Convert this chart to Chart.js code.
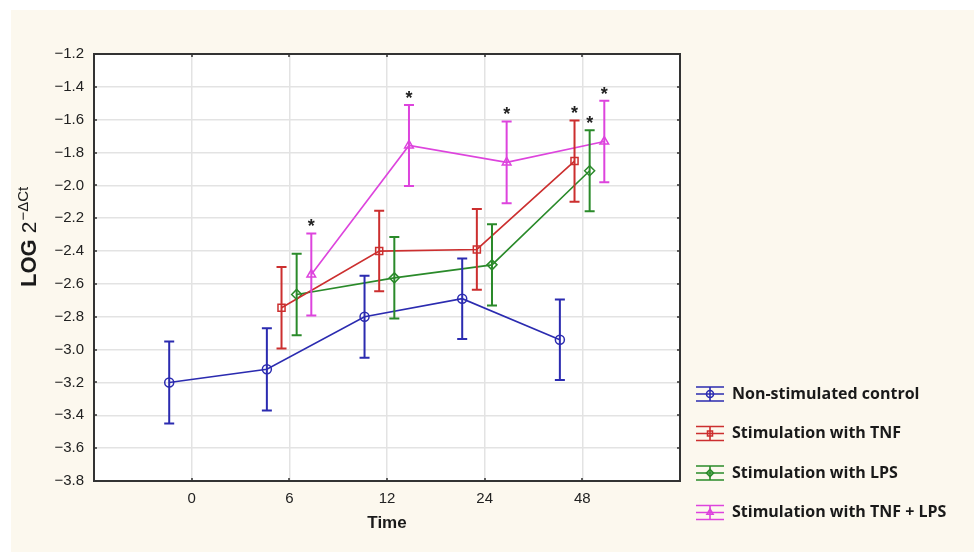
<!DOCTYPE html>
<html>
<head>
<meta charset="utf-8">
<script src="https://cdn.jsdelivr.net/npm/chart.js@4.4.1/dist/chart.umd.min.js"></script>
<style>
  html, body { margin: 0; padding: 0; background: #fff; }
  canvas { display: block; }
</style>
</head>
<body>
<canvas id="grafico" width="974" height="552"></canvas>
<script>
// dados
const tempos = ["0", "6", "12", "24", "48"];
const nomesSeries = ["Non-stimulated control", "Stimulation with TNF", "Stimulation with LPS", "Stimulation with TNF + LPS"];

const controle = [-3.20, -3.12, -2.80, -2.69, -2.94];
const tnf = [null, -2.745, -2.40, -2.39, -1.852];
const lps = [null, -2.664, -2.563, -2.484, -1.911];
const tnfLps = [null, -2.543, -1.757, -1.86, -1.733];

const erroControle = [0.25, 0.25, 0.25, 0.245, 0.245];
const erroTnf = [null, 0.248, 0.245, 0.246, 0.247];
const erroLps = [null, 0.248, 0.248, 0.248, 0.247];
const erroTnfLps = [null, 0.25, 0.247, 0.249, 0.248];

// asteriscos (significância)
const sigControle = [false, false, false, false, false];
const sigTnf = [false, false, false, false, true];
const sigLps = [false, false, false, false, true];
const sigTnfLps = [false, true, true, true, true];

const yTicks = { min: -3.8, max: -1.2, passo: 0.2 };

// estilo
const cores = ["#2b2bb0", "#cc2f2f", "#2a8a2a", "#dd44dd"];
const marcadores = ["circle", "rect", "rectRot", "triangle"];
const deslocamento = [-0.23, -0.08, 0.075, 0.225];
const fonteEixo = "'Liberation Sans', Arial, sans-serif";

const valores = [controle, tnf, lps, tnfLps];
const erros = [erroControle, erroTnf, erroLps, erroTnfLps];
const sigs = [sigControle, sigTnf, sigLps, sigTnfLps];

function menos(v) {
    return v.toFixed(1).replace("-", "\u2212");
}

const datasets = valores.map((serie, s) => {
    const pontos = [];
    serie.forEach((v, i) => {
        if (v !== null) pontos.push({ x: i + deslocamento[s], y: v, erro: erros[s][i], sig: sigs[s][i] });
    });
    return {
        label: nomesSeries[s],
        data: pontos,
        borderColor: cores[s],
        backgroundColor: "rgba(0,0,0,0)",
        borderWidth: 1.6,
        pointStyle: marcadores[s],
        pointRadius: s === 0 ? 4.5 : 5,
        pointBorderWidth: 1.5,
        pointBorderColor: cores[s],
        pointBackgroundColor: "rgba(255,255,255,0)",
        tension: 0
    };
});

// fundo bege e área branca
const fundo = {
    id: "fundo",
    beforeDraw(chart) {
        const c = chart.ctx, a = chart.chartArea;
        c.save();
        c.fillStyle = "#ffffff";
        c.fillRect(0, 0, chart.width, chart.height);
        c.fillStyle = "#fcf8ee";
        c.fillRect(11, 10, chart.width - 11, chart.height - 10);
        c.fillStyle = "#ffffff";
        c.fillRect(a.left, a.top, a.right - a.left, a.bottom - a.top);
        c.restore();
    }
};

// barras de erro e asteriscos
const barrasErro = {
    id: "barrasErro",
    afterDatasetsDraw(chart) {
        const c = chart.ctx;
        const sx = chart.scales.x, sy = chart.scales.y;
        c.save();
        chart.data.datasets.forEach((ds, s) => {
            c.strokeStyle = cores[s];
            c.lineWidth = 2;
            ds.data.forEach(p => {
                const x = sx.getPixelForValue(p.x);
                const yTop = sy.getPixelForValue(p.y + p.erro);
                const yBot = sy.getPixelForValue(p.y - p.erro);
                c.beginPath();
                c.moveTo(x, yTop); c.lineTo(x, yBot);
                c.moveTo(x - 5, yTop); c.lineTo(x + 5, yTop);
                c.moveTo(x - 5, yBot); c.lineTo(x + 5, yBot);
                c.stroke();
                if (p.sig) {
                    c.fillStyle = "#222";
                    c.font = "bold 18px " + fonteEixo;
                    c.textAlign = "center";
                    c.textBaseline = "middle";
                    c.fillText("*", x, yTop - 6);
                }
            });
        });
        c.restore();
    }
};

// moldura, títulos e legenda
const extras = {
    id: "extras",
    afterDraw(chart) {
        const c = chart.ctx, a = chart.chartArea;
        const sx = chart.scales.x, sy = chart.scales.y;
        c.save();
        c.strokeStyle = "#333";
        c.lineWidth = 2;
        c.strokeRect(a.left, a.top, a.right - a.left, a.bottom - a.top);

        // marcas dos eixos
        c.lineWidth = 1.5;
        c.beginPath();
        sy.ticks.forEach(t => {
            const y = Math.round(sy.getPixelForValue(t.value));
            c.moveTo(a.left, y); c.lineTo(a.left + 3, y);
            c.moveTo(a.right, y); c.lineTo(a.right - 3, y);
        });
        tempos.forEach((t, i) => {
            const x = Math.round(sx.getPixelForValue(i));
            c.moveTo(x, a.top); c.lineTo(x, a.top + 3);
            c.moveTo(x, a.bottom); c.lineTo(x, a.bottom - 3);
        });
        c.stroke();

        // título eixo x
        c.fillStyle = "#1a1a1a";
        c.font = "bold 17px " + fonteEixo;
        c.textAlign = "center";
        c.textBaseline = "middle";
        c.fillText("Time", (a.left + a.right) / 2, 523);

        // título eixo y
        c.save();
        c.translate(36, 287);
        c.rotate(-Math.PI / 2);
        c.textAlign = "left";
        c.textBaseline = "alphabetic";
        c.font = "bold 22px " + fonteEixo;
        c.fillText("LOG", 0, 0);
        let w = c.measureText("LOG ").width;
        c.font = "21px " + fonteEixo;
        c.fillText("2", w, 0);
        w += c.measureText("2").width + 1;
        c.font = "15px " + fonteEixo;
        c.fillText("\u2212\u0394Ct", w, -8);
        c.restore();

        // legenda
        chart.data.datasets.forEach((ds, s) => {
            const cy = 394 + s * 39.5, cx = 710;
            c.strokeStyle = cores[s];
            c.lineWidth = 1.6;
            c.beginPath();
            c.moveTo(696, cy - 7); c.lineTo(724, cy - 7);
            c.moveTo(696, cy); c.lineTo(724, cy);
            c.moveTo(696, cy + 7); c.lineTo(724, cy + 7);
            c.moveTo(cx, cy - 7); c.lineTo(cx, cy + 7);
            c.stroke();
            c.fillStyle = "rgba(0,0,0,0)";
            Chart.helpers.drawPoint(c, { pointStyle: marcadores[s], radius: 3.5, rotation: 0, borderWidth: 1.3 }, cx, cy);
            c.fillStyle = "#1a1a1a";
            c.font = "bold 16px 'Open Sans', sans-serif";
            c.textAlign = "left";
            c.textBaseline = "middle";
            c.fillText(ds.label, 732, cy);
        });
        c.restore();
    }
};

new Chart(document.getElementById("grafico").getContext("2d"), {
    type: "line",
    data: { datasets },
    options: {
        responsive: false,
        animation: false,
        devicePixelRatio: 1,
        layout: { padding: { top: 54, right: 294, left: 0, bottom: 0 } },
        plugins: { legend: { display: false }, tooltip: { enabled: false } },
        scales: {
            x: {
                type: "linear",
                min: -1,
                max: 5,
                afterFit(s) { s.height = 71; },
                ticks: {
                    stepSize: 1,
                    autoSkip: false,
                    maxRotation: 0,
                    padding: 9,
                    color: "#222",
                    font: { family: fonteEixo, size: 15 },
                    callback: v => (Number.isInteger(v) && v >= 0 && v < tempos.length) ? tempos[v] : ""
                },
                grid: { color: "#e3e3e3", lineWidth: 1.5, drawTicks: false },
                border: { display: false }
            },
            y: {
                min: yTicks.min,
                max: yTicks.max,
                afterFit(s) { s.width = 94; },
                ticks: {
                    stepSize: yTicks.passo,
                    padding: 10,
                    color: "#222",
                    font: { family: fonteEixo, size: 15 },
                    callback: v => menos(v)
                },
                grid: { color: "#e3e3e3", lineWidth: 1.5, drawTicks: false },
                border: { display: false }
            }
        }
    },
    plugins: [fundo, barrasErro, extras]
});
</script>
</body>
</html>
